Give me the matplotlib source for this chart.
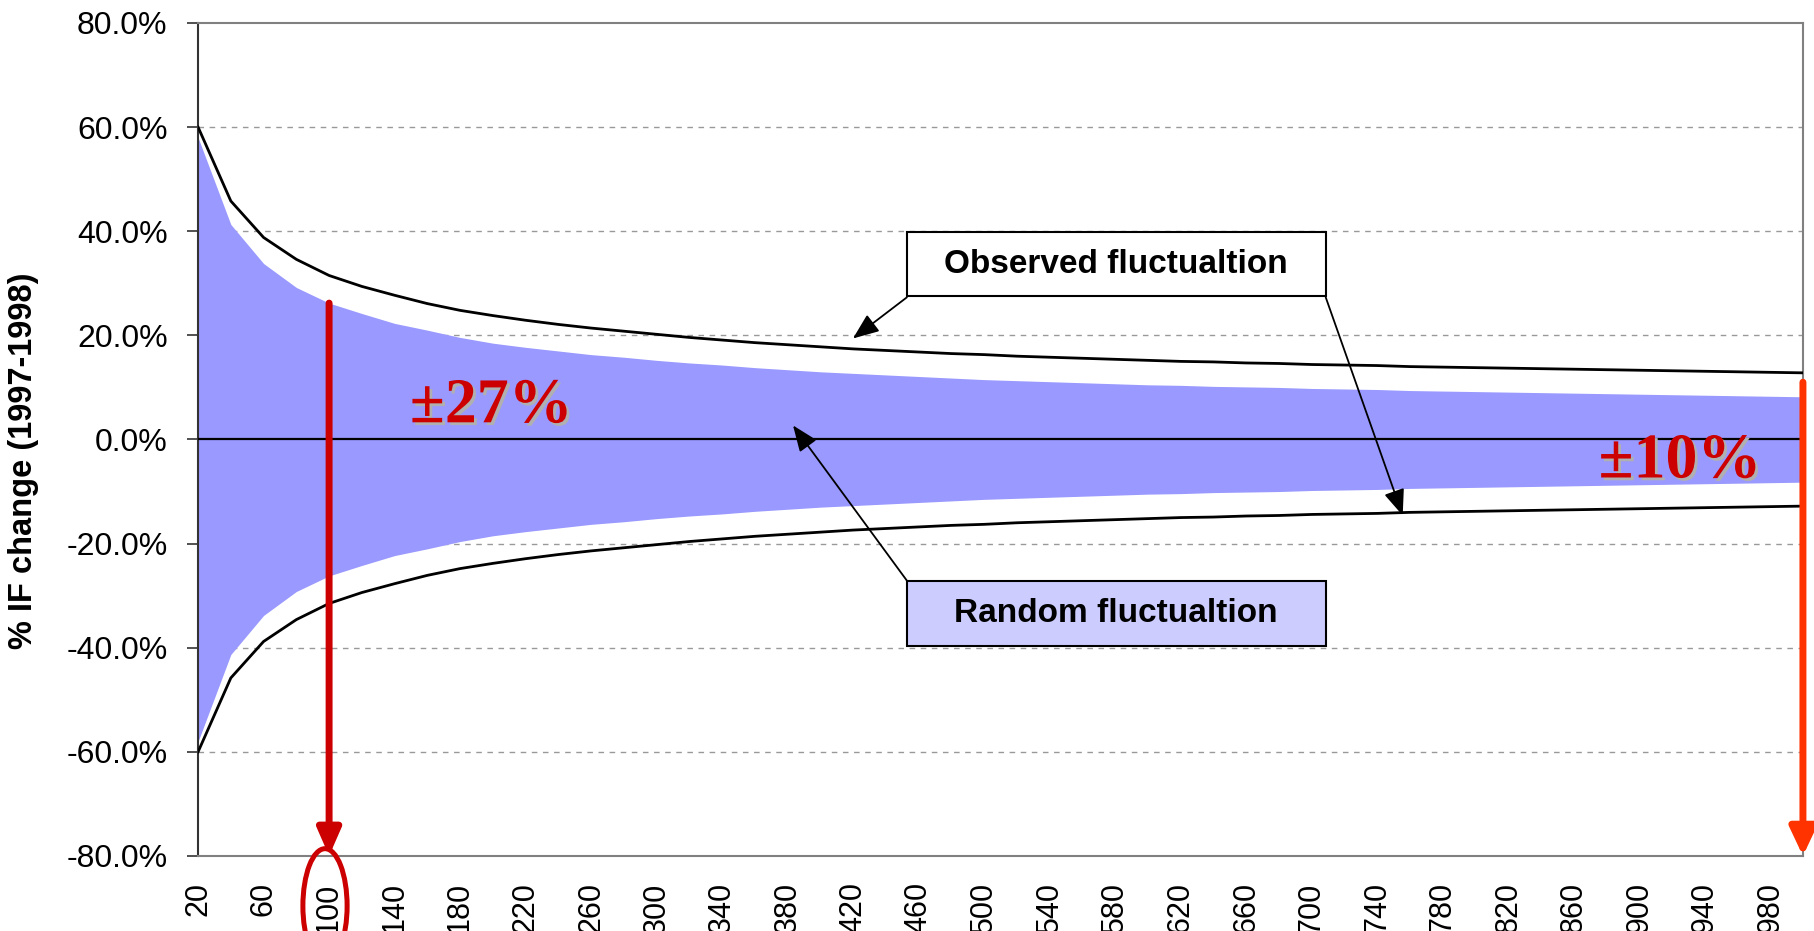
import matplotlib.pyplot as plt
import matplotlib.patches as mpatches
import matplotlib.patheffects as pe

plt.rcParams["font.family"] = "Liberation Sans"

# sample size categories (x axis)
sample_size = list(range(20, 1001, 20))

# observed fluctuation envelope (upper side, %)
observed = [60.0, 45.8, 38.8, 34.6, 31.5, 29.4, 27.7, 26.1, 24.8, 23.8,
            22.9, 22.1, 21.4, 20.8, 20.2, 19.6, 19.1, 18.6, 18.2, 17.8,
            17.4, 17.1, 16.8, 16.5, 16.3, 16.0, 15.8, 15.6, 15.4, 15.2,
            15.0, 14.9, 14.7, 14.6, 14.4, 14.3, 14.2, 14.0, 13.9, 13.8,
            13.7, 13.6, 13.5, 13.4, 13.3, 13.2, 13.1, 13.0, 12.9, 12.8]

# random fluctuation band (upper side, %)
random_fl = [58.0, 41.3, 33.8, 29.2, 26.2, 24.2, 22.3, 21.0, 19.6, 18.5,
             17.7, 17.0, 16.3, 15.8, 15.2, 14.7, 14.3, 13.8, 13.4, 13.0,
             12.7, 12.4, 12.1, 11.8, 11.5, 11.3, 11.1, 10.9, 10.7, 10.5,
             10.4, 10.2, 10.1, 10.0, 9.8, 9.7, 9.6, 9.4, 9.3, 9.2,
             9.1, 9.0, 8.9, 8.8, 8.7, 8.6, 8.5, 8.4, 8.3, 8.2]

# chart is symmetric around zero
observed_low = [-v for v in observed]
random_low = [-v for v in random_fl]

y_ticks = [-80, -60, -40, -20, 0, 20, 40, 60, 80]
x_ticks = list(range(20, 981, 40))

fig = plt.figure(figsize=(18.14, 9.31), dpi=100)
ax = fig.add_axes([0.1092, 0.0806, 0.8847, 0.8947])

ax.set_axisbelow(True)
for g in [-60, -40, -20, 20, 40, 60]:
    ax.axhline(g, color="#999999", lw=1, ls=(0, (4, 4)), zorder=0.5)

ax.fill_between(sample_size, random_low, random_fl, color="#9999ff", lw=0, zorder=1)
ax.plot(sample_size, observed, color="black", lw=2, zorder=3)
ax.plot(sample_size, observed_low, color="black", lw=2, zorder=3)
ax.axhline(0, color="black", lw=1.6, zorder=3)

ax.set_xlim(20, 1000)
ax.set_ylim(-80, 80)
ax.set_yticks(y_ticks)
ax.set_yticklabels([f"{v:.1f}%" for v in y_ticks])
ax.set_xticks(x_ticks)
ax.set_xticklabels([str(v) for v in x_ticks], rotation=90)
ax.tick_params(axis="y", labelsize=23, length=8, width=1.2, pad=14, color="#333333")
ax.tick_params(axis="x", labelsize=22, length=0, pad=19)

for s in ["top", "right", "bottom"]:
    ax.spines[s].set_color("#808080")
    ax.spines[s].set_linewidth(1.5)
ax.spines["left"].set_color("#333333")
ax.spines["left"].set_linewidth(1.5)

fig.text(24 / 1814, 1 - 461 / 931, "% IF change (1997-1998)", rotation=90,
         ha="center", va="center", fontsize=23.5, fontweight="bold")

# label boxes
ax.add_patch(mpatches.Rectangle((452.8, 27.5), 255.8, 12.3, fc="white",
                                ec="black", lw=1.5, zorder=5))
ax.text(580.7, 33.65, "Observed fluctualtion", ha="center", va="center",
        fontsize=24, fontweight="bold", zorder=6)
ax.add_patch(mpatches.Rectangle((452.8, -39.6), 255.8, 12.5, fc="#ccccff",
                                ec="black", lw=1.5, zorder=5))
ax.text(580.7, -33.35, "Random fluctualtion", ha="center", va="center",
        fontsize=24, fontweight="bold", zorder=6)

black_arrow = dict(arrowstyle="-|>,head_length=0.8,head_width=0.32",
                   mutation_scale=20, color="black", lw=1.3,
                   shrinkA=0, shrinkB=0)
ax.annotate("", xy=(419.9, 19.4), xytext=(452.8, 27.3), arrowprops=black_arrow, zorder=6)
ax.annotate("", xy=(755.6, -14.6), xytext=(708.6, 27.3), arrowprops=black_arrow, zorder=6)
ax.annotate("", xy=(383.3, 2.7), xytext=(452.8, -27.1), arrowprops=black_arrow, zorder=6)

# red markers
ax.annotate("", xy=(100, -80), xytext=(100, 26.2), annotation_clip=False,
            arrowprops=dict(arrowstyle="-|>,head_length=0.8,head_width=0.35",
                            mutation_scale=20, color="#cc0000", lw=5,
                            shrinkA=0, shrinkB=0), zorder=7)
ax.annotate("", xy=(1000, -80), xytext=(1000, 11.0), annotation_clip=False,
            arrowprops=dict(arrowstyle="-|>,head_length=0.85,head_width=0.4",
                            mutation_scale=20, color="#ff3300", lw=5,
                            shrinkA=0, shrinkB=0), zorder=7)
ax.add_patch(mpatches.Ellipse((97.5, -89.6), 27, 22, fill=False, ec="#cc0000",
                              lw=3.6, clip_on=False, zorder=7))

shadow = [pe.withSimplePatchShadow(offset=(2, -2), shadow_rgbFace="#b0b0b0", alpha=1)]
ax.text(198.9, 3.3, "\u00b127%", ha="center", va="baseline", fontsize=46,
        fontweight="bold", family="Liberation Serif", color="#cc0000",
        path_effects=shadow, zorder=8)
ax.text(924.8, -7.3, "\u00b110%", ha="center", va="baseline", fontsize=46,
        fontweight="bold", family="Liberation Serif", color="#cc0000",
        path_effects=shadow, zorder=8)

fig.savefig("out.png", dpi=100, facecolor="white")
